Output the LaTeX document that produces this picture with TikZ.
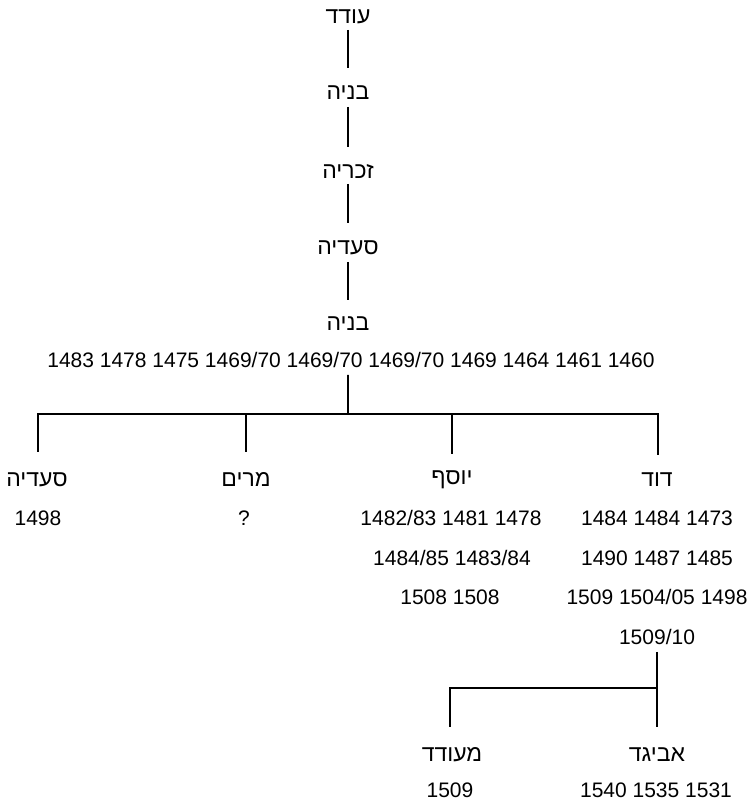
\documentclass[tikz,border=0pt]{standalone}
\usepackage{fontspec}
\setmainfont{Liberation Sans}
\newfontfamily\hebfont[Script=Hebrew]{Liberation Sans}
\TeXXeTstate=1
\newcommand{\heb}[1]{{\hebfont\beginR #1\endR}}
\tikzset{
  namebox/.style={font=\hebfont\fontsize{23bp}{26bp}\selectfont, inner sep=0pt},
  numbox/.style={font=\fontsize{21bp}{24bp}\selectfont, inner sep=0pt},
  link/.style={line width=1.9bp, line cap=butt, line join=miter},
}
\begin{document}
\begin{tikzpicture}[x=1bp,y=1bp]
\useasboundingbox (0,0) rectangle (753,801);
% lineage
\node[namebox] (o1) at (348,784) {\heb{עודד}};
\node[namebox] (b1) at (348,708) {\heb{בניה}};
\node[namebox] (z1) at (348,629) {\heb{זכריה}};
\node[namebox] (s1) at (348,553) {\heb{סעדיה}};
\node[namebox] (b2) at (348,477) {\heb{בניה}};
\node[numbox] (r0) at (351,441) {1483 1478 1475 1469/70 1469/70 1469/70 1469 1464 1461 1460};
\draw[link,shorten <=13bp,shorten >=25bp] (o1.center) -- (b1.center);
\draw[link,shorten <=14bp,shorten >=25bp] (b1.center) -- (z1.center);
\draw[link,shorten <=12bp,shorten >=25bp] (z1.center) -- (s1.center);
\draw[link,shorten <=14bp,shorten >=24bp] (s1.center) -- (b2.center);
% bus to children
\coordinate (top) at (348,387);
\coordinate (j1) at (38,387);
\coordinate (j2) at (246,387);
\coordinate (j3) at (452,387);
\coordinate (j4) at (658,387);
\draw[link] ([xshift=-3bp,yshift=-15bp]r0.center) -- (top);
% children
\node[namebox] (c1) at (37,321) {\heb{סעדיה}};
\node[namebox] (c2) at (246,321) {\heb{מרים}};
\node[namebox] (c3) at (452,321) {\heb{יוסף}};
\node[namebox] (c4) at (657,321) {\heb{דוד}};
\draw[link] ([yshift=28bp]c1.center -| j1) -- (j1) -- (j4) -- ([yshift=25bp]c4.center -| j4);
\draw[link] (j2) -- ([yshift=28bp]c2.center);
\draw[link] (j3) -- ([yshift=26bp]c3.center);
% dates of children
\node[numbox] (c1a) at (38,283) {1498};
\node[numbox] (c2a) at (244,283) {?};
\node[numbox] (c3a) at (451,283) {1482/83 1481 1478};
\node[numbox] (c3b) at (452,243) {1484/85 1483/84};
\node[numbox] (c3c) at (450,204) {1508 1508};
\node[numbox] (c4a) at (657,283) {1484 1484 1473};
\node[numbox] (c4b) at (657,243) {1490 1487 1485};
\node[numbox] (c4c) at (657,204) {1509 1504/05 1498};
\node[numbox] (c4d) at (657,164) {1509/10};
% grandchildren
\coordinate (k2) at (657,113);
\coordinate (k1) at (450,113);
\node[namebox] (g1) at (452,46) {\heb{מעודד}};
\node[namebox] (g2) at (657,46) {\heb{אביגד}};
\node[numbox] (g1a) at (450,11) {1509};
\node[numbox] (g2a) at (656,11) {1540 1535 1531};
\draw[link] ([yshift=-15bp]c4d.center) -- ([yshift=28bp]g2.center);
\draw[link] (k2) -- (k1) -- ([yshift=28bp]g1.center -| k1);
\end{tikzpicture}
\end{document}
